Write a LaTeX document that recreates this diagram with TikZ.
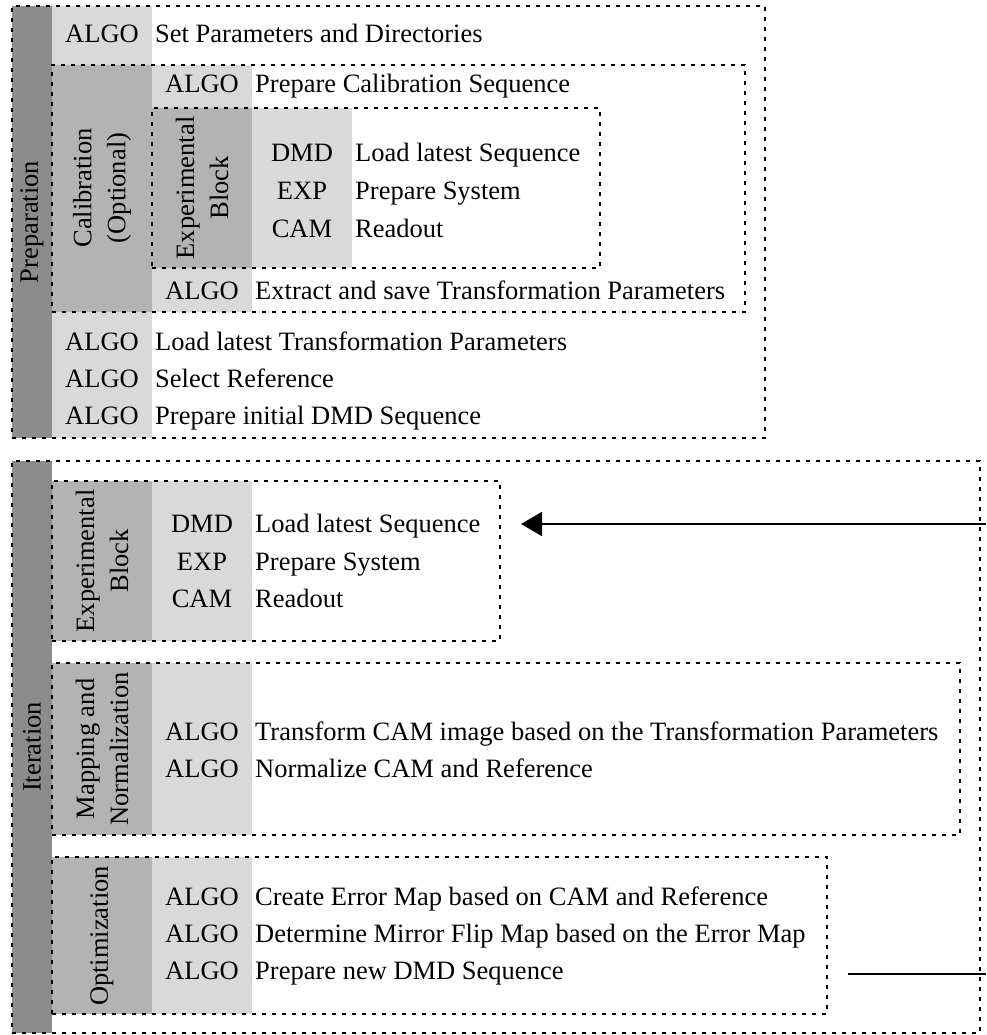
\documentclass[tikz,border=0pt]{standalone}
\usepackage{fontspec}
\setmainfont{Liberation Serif}
\usetikzlibrary{arrows.meta}
\definecolor{darkbar}{RGB}{140,140,140}
\definecolor{midgray}{RGB}{179,179,179}
\definecolor{lightgray}{RGB}{217,217,217}
\begin{document}
\begin{tikzpicture}[x=1pt,y=-1pt,
  dbox/.style={draw=black, dash pattern=on 4pt off 6pt, line width=1.7pt, inner sep=0pt, outer sep=0pt, anchor=north west},
  lbl/.style={font=\fontsize{26.5}{34}\selectfont, inner sep=0pt},
  tag/.style={lbl, anchor=base},
  desc/.style={lbl, anchor=base west},
  vlab/.style={lbl, rotate=90, align=center},
  conn/.style={draw=black, line width=1.8pt},
]
\useasboundingbox (0,0) rectangle (986,1035);

% ---------- fills: Preparation ----------
\fill[darkbar] (12,6) rectangle (52,438);
\fill[lightgray] (52,6) rectangle (152,65);
\fill[midgray] (52,65) rectangle (152,312);
\fill[lightgray] (152,65) rectangle (252,108);
\fill[midgray] (152,108) rectangle (252,268);
\fill[lightgray] (252,108) rectangle (352,268);
\fill[lightgray] (152,268) rectangle (252,312);
\fill[lightgray] (52,312) rectangle (152,438);
% ---------- fills: Iteration ----------
\fill[darkbar] (12,461) rectangle (52,1033);
\fill[midgray] (52,481) rectangle (152,641);
\fill[lightgray] (152,481) rectangle (252,641);
\fill[midgray] (52,663) rectangle (152,835);
\fill[lightgray] (152,663) rectangle (252,835);
\fill[midgray] (52,857) rectangle (152,1014);
\fill[lightgray] (152,857) rectangle (252,1014);

% ---------- dashed boxes ----------
\node[dbox, minimum width=753pt, minimum height=432pt] (prep) at (12,6) {};
\node[dbox, minimum width=693pt, minimum height=247pt] (calib) at (52,65) {};
\node[dbox, minimum width=448pt, minimum height=160pt] (cexp) at (152,108) {};
\node[dbox, minimum width=968pt, minimum height=572pt] (iter) at (12,461) {};
\node[dbox, minimum width=448pt, minimum height=160pt] (iexp) at (52,481) {};
\node[dbox, minimum width=908pt, minimum height=172pt] (map) at (52,663) {};
\node[dbox, minimum width=775pt, minimum height=157pt] (opt) at (52,857) {};

% ---------- vertical labels ----------
\node[vlab] (tprep) at (32,222) {Preparation};
\node[vlab] (tcal) at (102,188) {Calibration\\(Optional)};
\node[vlab] (tcexp) at (202,188) {Experimental\\Block};
\node[vlab] (titer) at (32,747) {Iteration};
\node[vlab] (tiexp) at (102,561) {Experimental\\Block};
\node[vlab] (tmap) at (102,749) {Mapping and\\Normalization};
\node[vlab] (topt) at (102,936) {Optimization};

% ---------- Preparation rows ----------
\node[tag] (p1a) at (102,43) {ALGO};
\node[desc] (p1b) at (155,43) {Set Parameters and Directories};
\node[tag] (c1a) at (202,93) {ALGO};
\node[desc] (c1b) at (255,93) {Prepare Calibration Sequence};
\node[tag] (ce1a) at (302,161) {DMD};
\node[desc] (ce1b) at (355,161) {Load latest Sequence};
\node[tag] (ce2a) at (302,199) {EXP};
\node[desc] (ce2b) at (355,199) {Prepare System};
\node[tag] (ce3a) at (302,237) {CAM};
\node[desc] (ce3b) at (355,237) {Readout};
\node[tag] (c2a) at (202,299) {ALGO};
\node[desc] (c2b) at (255,299) {Extract and save Transformation Parameters};
\node[tag] (p2a) at (102,350) {ALGO};
\node[desc] (p2b) at (155,350) {Load latest Transformation Parameters};
\node[tag] (p3a) at (102,387) {ALGO};
\node[desc] (p3b) at (155,387) {Select Reference};
\node[tag] (p4a) at (102,424) {ALGO};
\node[desc] (p4b) at (155,424) {Prepare initial DMD Sequence};

% ---------- Iteration rows ----------
\node[tag] (ie1a) at (202,532) {DMD};
\node[desc] (ie1b) at (255,532) {Load latest Sequence};
\node[tag] (ie2a) at (202,570) {EXP};
\node[desc] (ie2b) at (255,570) {Prepare System};
\node[tag] (ie3a) at (202,607) {CAM};
\node[desc] (ie3b) at (255,607) {Readout};
\node[tag] (m1a) at (202,740) {ALGO};
\node[desc] (m1b) at (255,740) {Transform CAM image based on the Transformation Parameters};
\node[tag] (m2a) at (202,777) {ALGO};
\node[desc] (m2b) at (255,777) {Normalize CAM and Reference};
\node[tag] (o1a) at (202,905) {ALGO};
\node[desc] (o1b) at (255,905) {Create Error Map based on CAM and Reference};
\node[tag] (o2a) at (202,942) {ALGO};
\node[desc] (o2b) at (255,942) {Determine Mirror Flip Map based on the Error Map};
\node[tag] (o3a) at (202,979) {ALGO};
\node[desc] (o3b) at (255,979) {Prepare new DMD Sequence};

% ---------- connectors ----------
\coordinate (rin) at (986,524);
\coordinate (rout) at (986,974);
\draw[conn, -{Triangle[length=21pt,width=24pt]}, shorten >=21pt] (rin) -- (iexp.east |- rin);
\draw[conn, shorten <=21pt] (opt.east |- rout) -- (rout);
\end{tikzpicture}
\end{document}
